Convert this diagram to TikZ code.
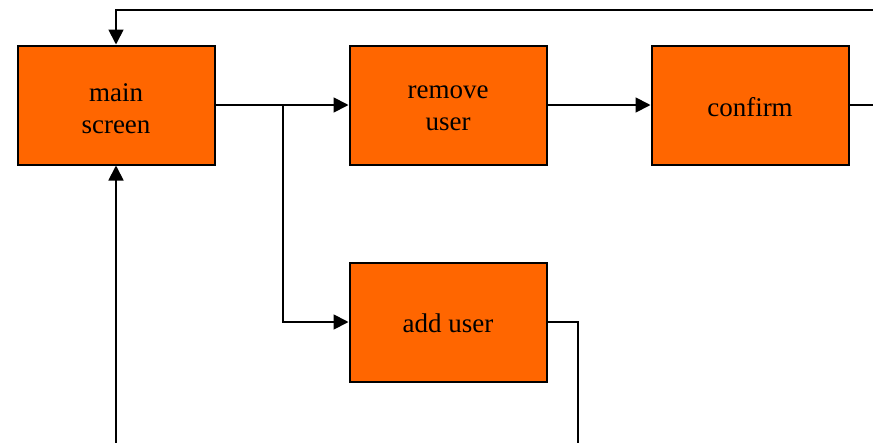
\documentclass[tikz,border=0pt]{standalone}
\usepackage{fontspec}
\setmainfont{Liberation Serif}
\usetikzlibrary{arrows.meta}
\definecolor{boxorange}{HTML}{FF6600}
\begin{document}
\begin{tikzpicture}[x=1pt,y=-1pt,
  box/.style={draw=black,fill=boxorange,line width=2pt,minimum width=197pt,minimum height=119pt,inner sep=0pt},
  lbl/.style={inner sep=0pt,align=center,font=\fontsize{27}{32}\selectfont},
  conn/.style={line width=1.8pt},
  arr/.style={conn,-{Triangle[length=15pt,width=15pt]}}]
\useasboundingbox (0,0) rectangle (873,442);
\clip (0,0) rectangle (873,442);
\node[box] (main) at (116,105) {};
\node[box] (remove) at (448,105) {};
\node[box] (confirm) at (750,105) {};
\node[box] (add) at (448,322) {};
\node[lbl] (mainL) at ([yshift=-3.5pt]main.center) {main\\screen};
\node[lbl] (removeL) at ([yshift=-3.5pt]remove.center) {remove\\user};
\node[lbl] (confirmL) at ([yshift=-2pt]confirm.center) {confirm};
\node[lbl] (addL) at ([yshift=-1.5pt]add.center) {add user};
\coordinate (br) at (283,105);
\coordinate (cr) at (880,105);
\coordinate (tr) at (880,10);
\coordinate (bm) at (116,450);
\coordinate (ba) at (578,450);
\draw[arr] (main.east) -- (remove.west);
\draw[arr] (br) |- (add.west);
\draw[arr] (remove.east) -- (confirm.west);
\draw[conn] (confirm.east) -- (cr);
\draw[arr] (tr) -| (main.north);
\draw[arr] (bm) -- (main.south);
\draw[conn] (add.east) -| (ba);
\end{tikzpicture}
\end{document}
